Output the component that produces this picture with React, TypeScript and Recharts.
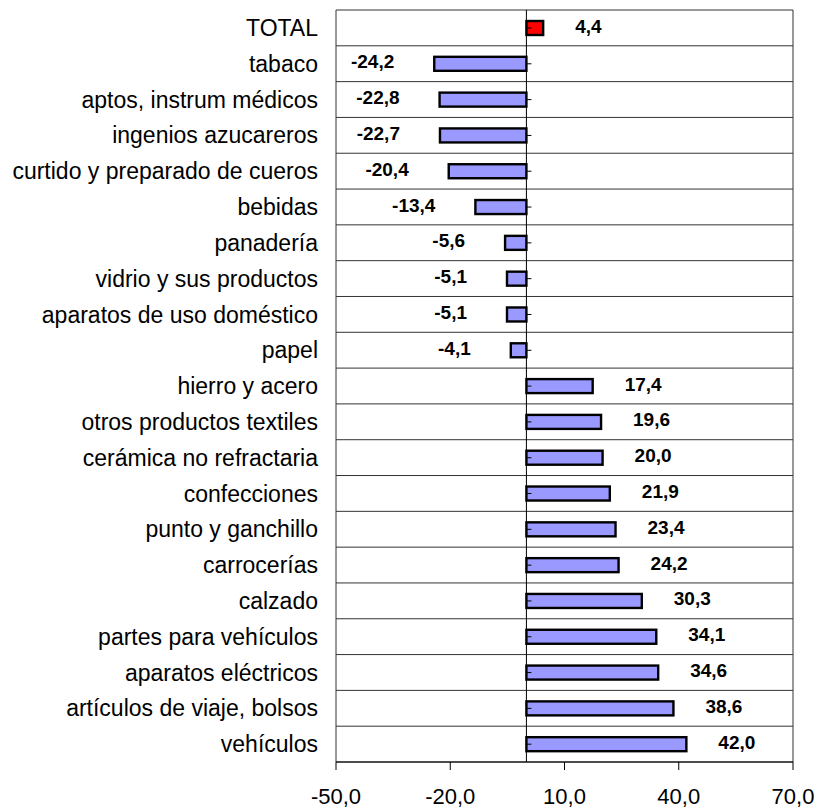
import React from 'react';
import { BarChart, Bar, XAxis, YAxis, CartesianGrid, ReferenceLine, LabelList, Cell } from 'recharts';

const categories = [
    'TOTAL',
    'tabaco',
    'aptos, instrum médicos',
    'ingenios azucareros',
    'curtido y preparado de cueros',
    'bebidas',
    'panadería',
    'vidrio y sus productos',
    'aparatos de uso doméstico',
    'papel',
    'hierro y acero',
    'otros productos textiles',
    'cerámica no refractaria',
    'confecciones',
    'punto y ganchillo',
    'carrocerías',
    'calzado',
    'partes para vehículos',
    'aparatos eléctricos',
    'artículos de viaje, bolsos',
    'vehículos',
];

const values = [
    4.4, -24.2, -22.8, -22.7, -20.4, -13.4, -5.6, -5.1, -5.1, -4.1,
    17.4, 19.6, 20.0, 21.9, 23.4, 24.2, 30.3, 34.1, 34.6, 38.6, 42.0,
];

const xTicks = [-50, -20, 10, 40, 70];

const FONT = '"Liberation Sans", Arial, sans-serif';

const fmt = (v: number) => v.toFixed(1).replace('.', ',');

const data = categories.map((name, i) => ({ name, value: values[i] }));

// bar rect plus the little tick mark of the category axis at zero
const BarShape = (props: any) => {
    const { x, y, width, height, fill, payload } = props;
    const l = Math.min(x, x + width);
    const r = Math.max(x, x + width);
    const zero = payload.value >= 0 ? l : r;
    const cy = y + height / 2;
    return (
        <g>
            <rect x={l} y={y} width={r - l} height={height} fill={fill} stroke="#000" strokeWidth={2.4} />
            <line x1={zero} x2={zero + 5} y1={cy} y2={cy} stroke="#000" strokeWidth={1} />
        </g>
    );
};

const ValueLabel = (props: any) => {
    const { x, y, width, height, value } = props;
    const l = Math.min(x, x + width);
    const r = Math.max(x, x + width);
    const neg = value < 0;
    return (
        <text
            x={neg ? l - 40 : r + 32}
            y={y + height / 2 - 2}
            textAnchor={neg ? 'end' : 'start'}
            dominantBaseline="central"
            fontFamily={FONT}
            fontWeight="bold"
            fontSize={19}
            fill="#000"
        >
            {fmt(value)}
        </text>
    );
};

export default function App() {
    const n = categories.length;
    return (
        <div style={{ position: 'absolute', left: 0, top: 0, background: '#fff' }}>
            <BarChart
                width={820}
                height={808}
                data={data}
                layout="vertical"
                margin={{ top: 10, right: 27, bottom: 0, left: 0 }}
            >
                <CartesianGrid
                    stroke="#333"
                    horizontalCoordinatesGenerator={({ offset }: any) =>
                        Array.from({ length: n + 1 }, (_, i) => offset.top + (i * offset.height) / n)
                    }
                    verticalCoordinatesGenerator={({ offset }: any) => [offset.left, offset.left + offset.width]}
                />
                <XAxis
                    type="number"
                    domain={[-50, 70]}
                    ticks={xTicks}
                    tickFormatter={fmt}
                    height={46}
                    tickSize={8}
                    tickMargin={18}
                    stroke="#000"
                    tick={{ fontFamily: FONT, fontSize: 22, fill: '#000' }}
                />
                <YAxis
                    type="category"
                    dataKey="name"
                    width={336}
                    interval={0}
                    axisLine={false}
                    tickLine={false}
                    tickSize={0}
                    tickMargin={18}
                    tick={{ fontFamily: FONT, fontSize: 23, fill: '#000' }}
                />
                <ReferenceLine x={0} stroke="#000" strokeWidth={1} />
                <Bar dataKey="value" barSize={14} shape={BarShape} isAnimationActive={false}>
                    {data.map((d, i) => (
                        <Cell key={`cell-${i}`} fill={i === 0 ? '#FF0000' : '#9999FF'} />
                    ))}
                    <LabelList dataKey="value" content={ValueLabel} />
                </Bar>
            </BarChart>
        </div>
    );
}
